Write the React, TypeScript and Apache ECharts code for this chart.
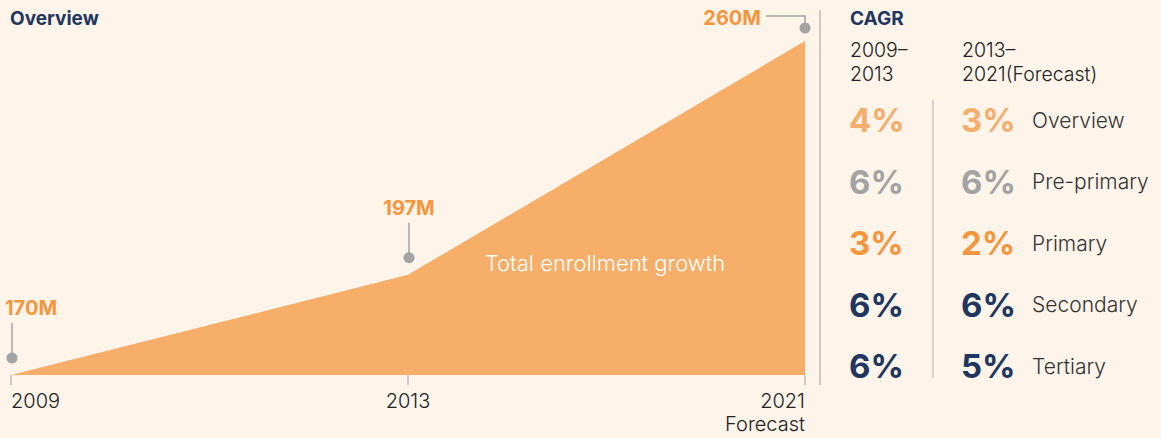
import React, { useEffect, useRef } from 'react';
import * as echarts from 'echarts';

const years = ['2009', '2013', '2021\nForecast'];
const enrollment = [170, 197, 260];
const enrollmentLabels = ['170M', '197M', '260M'];
const segments = ['Overview', 'Pre-primary', 'Primary', 'Secondary', 'Tertiary'];
const cagr2009to2013 = [4, 6, 3, 6, 6];
const cagr2013to2021 = [3, 6, 2, 6, 5];
const segmentColors = ['#F5AE6B', '#A3A3A3', '#F5963F', '#1F3661', '#1F3661'];
const periodHeaders = ['2009–\n2013', '2013–\n2021(Forecast)'];

const FONT = 'Inter, Roboto, "Noto Sans", sans-serif';
const NAVY = '#1F3661';
const ORANGE = '#F5963F';
const GREY = '#A3A3A3';

export default function App() {
  const ref = useRef<HTMLDivElement>(null);
  useEffect(() => {
    document.body.style.margin = '0';
    const chart = echarts.init(ref.current!, null, { renderer: 'svg' });
    chart.setOption({
      animation: false,
      backgroundColor: '#FEF4EA',
      textStyle: { fontFamily: FONT },
      grid: { left: 11, right: 356, top: 41, bottom: 63 },
      xAxis: {
        type: 'category',
        data: years,
        boundaryGap: false,
        axisLine: { show: false },
        axisTick: { show: true, length: 10, lineStyle: { color: '#BBBBBB', width: 1.5 } },
        axisLabel: {
          fontFamily: FONT,
          fontSize: 20,
          fontWeight: 300,
          color: '#222222',
          lineHeight: 23,
          margin: 14,
          alignMinLabel: 'left',
          alignMaxLabel: 'right',
          verticalAlign: 'top',
        },
      },
      yAxis: { type: 'value', min: 170, max: 260, show: false },
      series: [
        {
          type: 'line',
          data: enrollment,
          symbol: 'none',
          lineStyle: { width: 0 },
          areaStyle: { color: '#F6AE69', opacity: 1, origin: 'start' },
        },
      ],
    });

    const pts = enrollment.map((v, i) => chart.convertToPixel({ gridIndex: 0 }, [i, v]) as number[]);
    const g: any[] = [];
    const labelStyle = { fill: ORANGE, fontSize: 20, fontWeight: 'bold', fontFamily: FONT };
    pts.forEach((p, i) => {
      const [px, py] = p;
      if (i < pts.length - 1) {
        const dy = py - 17;
        g.push({ type: 'circle', z: 100, shape: { cx: px + 1, cy: dy, r: 5.5 }, style: { fill: GREY } });
        g.push({ type: 'line', z: 100, shape: { x1: px + 1, y1: dy - 4, x2: px + 1, y2: dy - 35 }, style: { stroke: GREY, lineWidth: 1.5 } });
        g.push({
          type: 'text',
          z: 100,
          x: i === 0 ? px - 6 : px + 1,
          y: dy - 40,
          style: { ...labelStyle, text: enrollmentLabels[i], align: i === 0 ? 'left' : 'center', verticalAlign: 'bottom' },
        });
      } else {
        const dy = py - 13;
        g.push({ type: 'circle', z: 100, shape: { cx: px, cy: dy, r: 5.5 }, style: { fill: GREY } });
        g.push({
          type: 'polyline',
          z: 100,
          shape: { points: [[px, dy - 4], [px, dy - 12], [px - 39, dy - 12]] },
          style: { stroke: GREY, lineWidth: 1.5, fill: 'none' },
        });
        g.push({
          type: 'text',
          z: 100,
          x: px - 44,
          y: dy - 10,
          style: { ...labelStyle, text: enrollmentLabels[i], align: 'right', verticalAlign: 'middle' },
        });
      }
    });

    // Inner area text
    g.push({
      type: 'text',
      z: 100,
      x: 605,
      y: 263,
      style: { text: 'Total enrollment growth', fill: '#FFFFFF', fontSize: 22, fontWeight: 300, fontFamily: FONT, align: 'center', verticalAlign: 'middle' },
    });

    // Titles
    g.push({ type: 'text', z: 100, x: 10, y: 18, style: { text: 'Overview', fill: NAVY, fontSize: 19, fontWeight: 'bold', fontFamily: FONT, verticalAlign: 'middle' } });
    g.push({ type: 'text', z: 100, x: 850, y: 18, style: { text: 'CAGR', fill: NAVY, fontSize: 19, fontWeight: 'bold', fontFamily: FONT, verticalAlign: 'middle' } });

    // Separators
    g.push({ type: 'line', z: 100, shape: { x1: 820, y1: 10, x2: 820, y2: 385 }, style: { stroke: '#BDBDBD', lineWidth: 1.5 } });
    g.push({ type: 'line', z: 100, shape: { x1: 933, y1: 100, x2: 933, y2: 378 }, style: { stroke: '#C8C8C8', lineWidth: 1.5 } });

    // Period headers
    [850, 962].forEach((x, k) => {
      g.push({
        type: 'text',
        z: 100,
        x,
        y: 38,
        style: { text: periodHeaders[k], fill: '#222222', fontSize: 19.5, fontWeight: 300, fontFamily: FONT, lineHeight: 24, verticalAlign: 'top' },
      });
    });

    // Rows
    segments.forEach((name, i) => {
      const y = 120 + i * 61.5;
      const pctStyle = { fill: segmentColors[i], fontSize: 33, fontWeight: 'bold', fontFamily: FONT, verticalAlign: 'middle' };
      g.push({ type: 'text', z: 100, x: 849, y, style: { ...pctStyle, text: cagr2009to2013[i] + '%' } });
      g.push({ type: 'text', z: 100, x: 961, y, style: { ...pctStyle, text: cagr2013to2021[i] + '%' } });
      g.push({ type: 'text', z: 100, x: 1032, y, style: { text: name, fill: '#333333', fontSize: 21, fontWeight: 300, fontFamily: FONT, verticalAlign: 'middle' } });
    });

    chart.setOption({ graphic: g });
    return () => chart.dispose();
  }, []);
  return <div ref={ref} style={{ position: 'fixed', left: 0, top: 0, width: 1161, height: 438 }} />;
}
